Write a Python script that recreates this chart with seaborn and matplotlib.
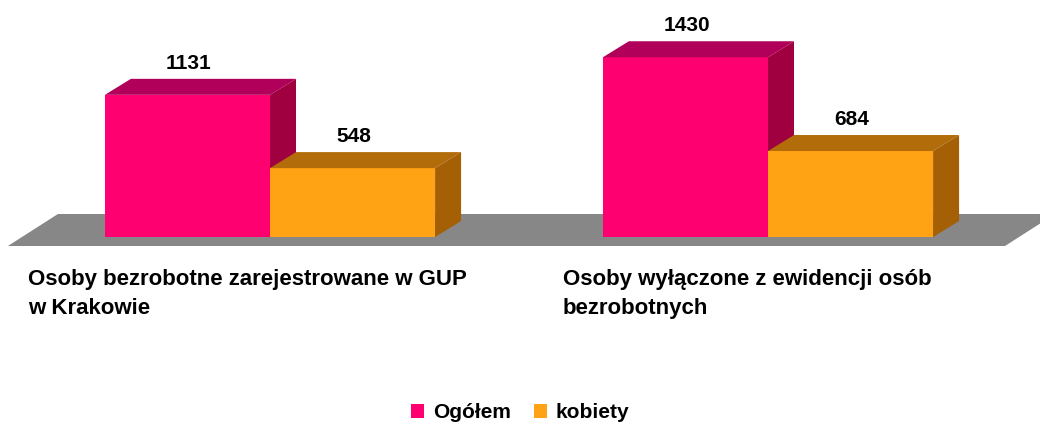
"""
Bezrobotni w GUP w Krakowie - wykres słupkowy w stylu 3D.
"""

import matplotlib.pyplot as plt
import pandas as pd
import seaborn as sns
from matplotlib.patches import Patch, Polygon

categories = [
    "Osoby bezrobotne zarejestrowane w GUP\nw Krakowie",
    "Osoby wyłączone z ewidencji osób\nbezrobotnych",
]
series = ["Ogółem", "kobiety"]
ogolem = [1131, 1430]
kobiety = [548, 684]

front_colors = {"Ogółem": "#FF0070", "kobiety": "#FFA214"}
top_colors = {"Ogółem": "#B0005A", "kobiety": "#B26C0A"}
side_colors = {"Ogółem": "#A0003F", "kobiety": "#A56006"}

df = pd.DataFrame({
    "kategoria": categories * 2,
    "seria": [series[0]] * len(ogolem) + [series[1]] * len(kobiety),
    "wartosc": ogolem + kobiety,
})

sns.set_theme(style="white")
plt.rcParams["font.family"] = ["Liberation Sans", "DejaVu Sans"]
plt.rcParams["text.color"] = "black"

fig = plt.figure(figsize=(10.4, 4.26), dpi=100)
ax = fig.add_axes([0, 0, 1, 1])

sns.barplot(
    data=df,
    x="kategoria",
    y="wartosc",
    hue="seria",
    hue_order=series,
    palette=front_colors,
    width=0.663,
    saturation=1,
    linewidth=0,
    legend=False,
    ax=ax,
)

# pixel mapping: baseline at 237 px from top, category step 498 px
ax.set_xlim(-270 / 498, 770 / 498)
ax.set_ylim(-189 / 0.1257, 237 / 0.1257)
ax.axis("off")

to_px = ax.transData
to_data = ax.transData.inverted()
depth = (26, 16)

bars = sorted(ax.patches[:len(df)], key=lambda b: b.get_x())

# grey floor, placed relative to the first bar
x0, y0 = to_px.transform((bars[0].get_x(), 0))
floor_px = [
    (x0 - 97, y0 - 9), (x0 - 47, y0 + 23),
    (1055, y0 + 23), (1005, y0 - 9),
]
ax.add_patch(Polygon([to_data.transform(p) for p in floor_px],
                     closed=True, facecolor="#878787", edgecolor="none", zorder=1))

for i, bar in enumerate(bars):
    hue = series[0] if bar.get_facecolor()[1] < 0.3 else series[1]
    z = 2 + i * 0.1
    bar.set_zorder(z)
    (l, b), (r, t) = to_px.transform([(bar.get_x(), 0),
                                      (bar.get_x() + bar.get_width(), bar.get_height())])
    dx, dy = depth
    top = [(l, t), (l + dx, t + dy), (r + dx, t + dy), (r, t)]
    side = [(r, b), (r, t), (r + dx, t + dy), (r + dx, b + dy)]
    ax.add_patch(Polygon([to_data.transform(p) for p in top], closed=True,
                         facecolor=top_colors[hue], edgecolor="none", zorder=z))
    ax.add_patch(Polygon([to_data.transform(p) for p in side], closed=True,
                         facecolor=side_colors[hue], edgecolor="none", zorder=z))
    ax.annotate(f"{bar.get_height():.0f}",
                xy=(bar.get_x() + bar.get_width() / 2, bar.get_height()),
                xytext=(1, 26), textcoords="offset pixels",
                ha="center", va="baseline", fontsize=15, fontweight="bold",
                color="black", zorder=5)

label_offsets = [-242, -205]
for i, label in enumerate(categories):
    ax.annotate(label, xy=(i, 0), xytext=(label_offsets[i], -32),
                textcoords="offset pixels", ha="left", va="top",
                fontsize=16, fontweight="bold", color="black", linespacing=1.5)

handles = [Patch(facecolor=front_colors[s], edgecolor="none", label=s) for s in series]
fig.legend(handles=handles, loc="center", bbox_to_anchor=(0.5, 13 / 426), ncol=2,
           frameon=False, handlelength=0.65, handleheight=0.65, handletextpad=0.4,
           columnspacing=1.1, labelcolor="black",
           prop={"weight": "bold", "size": 15})

fig.savefig("out.png", dpi=100)
plt.close(fig)
